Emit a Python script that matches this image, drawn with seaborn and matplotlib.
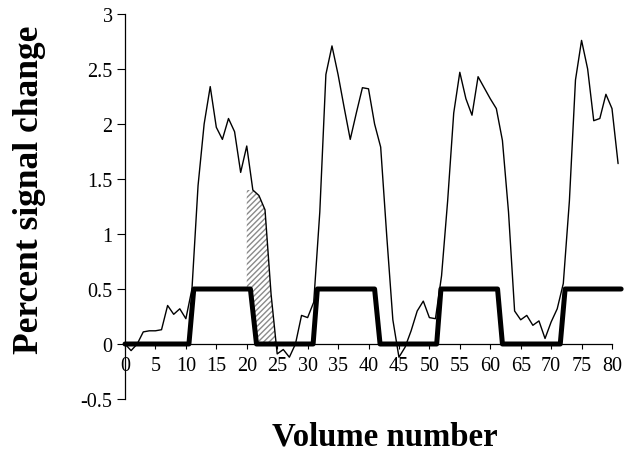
import numpy as np
import matplotlib
matplotlib.use("Agg")
import matplotlib.pyplot as plt
import seaborn as sns

# volume index and percent signal change
volumes = np.arange(82)
signal = [0.0, -0.06, 0.0, 0.11, 0.12, 0.12, 0.13, 0.35, 0.27, 0.32,
          0.23, 0.5, 1.44, 2.0, 2.34, 1.97, 1.86, 2.05, 1.93, 1.56,
          1.8, 1.4, 1.35, 1.22, 0.45, -0.09, -0.05, -0.12, 0.0, 0.26,
          0.24, 0.38, 1.2, 2.45, 2.71, 2.45, 2.15, 1.86, 2.1, 2.33,
          2.32, 2.0, 1.79, 0.98, 0.22, -0.12, -0.03, 0.12, 0.3, 0.39,
          0.24, 0.23, 0.62, 1.3, 2.1, 2.47, 2.23, 2.08, 2.43, 2.33,
          2.23, 2.14, 1.85, 1.2, 0.3, 0.22, 0.26, 0.17, 0.21, 0.05,
          0.2, 0.32, 0.55, 1.3, 2.4, 2.76, 2.5, 2.03, 2.05, 2.27,
          2.14, 1.64]

# task boxcar (on/off blocks)
box_x = [0, 10.5, 11.3, 20.6, 21.6, 30.9, 31.6, 41.0, 41.9,
         51.2, 51.9, 61.2, 62.0, 71.5, 72.3, 81.5]
box_y = [0, 0, 0.5, 0.5, 0, 0, 0.5, 0.5, 0, 0, 0.5, 0.5, 0, 0, 0.5, 0.5]

# hatched post-stimulus area
hatch_start, hatch_end, hatch_top = 20, 25, 1.4

xticks = list(range(0, 81, 5))
yticks = [-0.5, 0, 0.5, 1, 1.5, 2, 2.5, 3]
ytick_labels = ["-0.5", "0", "0.5", "1", "1.5", "2", "2.5", "3"]

sns.set_style("white")
plt.rcParams["font.family"] = ["Liberation Serif", "DejaVu Serif"]
plt.rcParams["text.color"] = "black"
plt.rcParams["xtick.color"] = "black"
plt.rcParams["ytick.color"] = "black"

fig = plt.figure(figsize=(6.3, 4.64), dpi=100)
ax = fig.add_axes([125 / 630, 1 - 400 / 464, 487 / 630, 385 / 464])

xf = np.linspace(hatch_start, hatch_end, 300)
sf = np.minimum(np.interp(xf, volumes, signal), hatch_top)
bf = np.interp(xf, box_x, box_y)
ax.fill_between(xf, bf, sf, where=sf >= bf, interpolate=True,
                facecolor="none", edgecolor="#8a8a8a", linewidth=0,
                hatch="//////")

sns.lineplot(x=volumes, y=signal, color="black", linewidth=1.0,
             estimator=None, ax=ax)
sns.lineplot(x=box_x, y=box_y, color="black", linewidth=3.6,
             estimator=None, sort=False, ax=ax)
for ln in ax.lines:
    ln.set_clip_on(False)

ax.set_xlim(0, 80)
ax.set_ylim(-0.5, 3)
ax.spines["top"].set_visible(False)
ax.spines["right"].set_visible(False)
ax.spines["bottom"].set_position(("data", 0))
for s in ["left", "bottom"]:
    ax.spines[s].set_color("black")
    ax.spines[s].set_linewidth(0.9)

ax.set_xticks(xticks)
ax.set_xticklabels([str(t) for t in xticks], fontsize=14.5)
ax.set_yticks(yticks)
ax.set_yticklabels(ytick_labels, fontsize=14.5)
ax.tick_params(axis="x", direction="out", length=3.5, width=0.8, pad=5,
               bottom=True, colors="black")
ax.tick_params(axis="y", direction="out", length=6, width=0.8, pad=3,
               left=True, colors="black")

fig.text(30 / 630, 1 - 190 / 464, "Percent signal change", rotation=90,
         ha="center", va="center", fontsize=25.5, fontweight="bold",
         color="black")
fig.text(385 / 630, 1 - 437 / 464, "Volume number", ha="center",
         va="center", fontsize=23.6, fontweight="bold", color="black")

fig.savefig("out.png", dpi=100, facecolor="white")
